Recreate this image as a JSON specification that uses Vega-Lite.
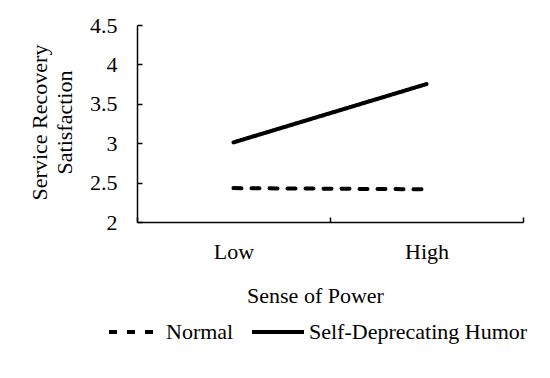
{
  "$schema": "https://vega.github.io/schema/vega-lite/v6.json",
  "width": 386,
  "height": 197,
  "autosize": {"type": "none"},
  "padding": {"left": 137, "top": 25, "right": 27, "bottom": 156},
  "background": "white",
  "config": {
    "view": {"stroke": null},
    "font": "Liberation Serif",
    "axis": {"labelFont": "Liberation Serif", "titleFont": "Liberation Serif"},
    "legend": {"labelFont": "Liberation Serif", "titleFont": "Liberation Serif"}
  },
  "data": {
    "values": [
      {"power": "Low", "group": "Normal", "value": 2.43},
      {"power": "High", "group": "Normal", "value": 2.415},
      {"power": "Low", "group": "Self-Deprecating Humor", "value": 3.01},
      {"power": "High", "group": "Self-Deprecating Humor", "value": 3.75}
    ]
  },
  "mark": {"type": "line", "color": "black", "strokeWidth": 4, "strokeCap": "round"},
  "encoding": {
    "x": {
      "field": "power",
      "type": "nominal",
      "sort": ["Low", "High"],
      "scale": {"type": "band", "paddingInner": 0, "paddingOuter": 0},
      "axis": {
        "orient": "top",
        "offset": -197,
        "title": "Sense of Power",
        "labelAngle": 0,
        "labelBaseline": "top",
        "labelFont": "Liberation Serif",
        "titleFont": "Liberation Serif",
        "tickBand": "extent",
        "tickSize": 5,
        "tickWidth": 1.5,
        "domainWidth": 1.5,
        "domainColor": "black",
        "tickColor": "black",
        "labelColor": "black",
        "titleColor": "black",
        "labelFontSize": 22,
        "titleFontSize": 22,
        "titleFontWeight": "normal",
        "labelPadding": -24,
        "titleBaseline": "top",
        "titleAlign": "center",
        "titleX": 178,
        "titleY": 63
      }
    },
    "y": {
      "field": "value",
      "type": "quantitative",
      "scale": {"domain": [2, 4.5], "nice": false, "zero": false},
      "axis": {
        "orient": "right",
        "offset": -386,
        "values": [2, 2.5, 3, 3.5, 4, 4.5],
        "format": "~g",
        "grid": false,
        "labelAlign": "right",
        "labelFont": "Liberation Serif",
        "titleFont": "Liberation Serif",
        "title": ["Service Recovery", "Satisfaction"],
        "titleLineHeight": 25,
        "titleAngle": -90,
        "titleBaseline": "top",
        "titleAlign": "center",
        "titleX": -108,
        "titleY": 97,
        "tickSize": 5,
        "tickWidth": 1.5,
        "domainWidth": 1.5,
        "domainColor": "black",
        "tickColor": "black",
        "labelColor": "black",
        "titleColor": "black",
        "labelFontSize": 22,
        "titleFontSize": 22,
        "titleFontWeight": "normal",
        "labelPadding": -25
      }
    },
    "strokeDash": {
      "field": "group",
      "type": "nominal",
      "scale": {"domain": ["Normal", "Self-Deprecating Humor"], "range": [[8, 10], [1, 0]]},
      "legend": {
        "orient": "none",
        "legendX": -30,
        "legendY": 279,
        "direction": "horizontal",
        "title": null,
        "symbolType": "stroke",
        "symbolSize": 2704,
        "symbolStrokeWidth": 4,
        "symbolStrokeColor": "black",
        "labelFont": "Liberation Serif",
        "labelFontSize": 22,
        "labelColor": "black",
        "labelLimit": 400,
        "labelOffset": 3,
        "columnPadding": 10
      }
    }
  }
}
